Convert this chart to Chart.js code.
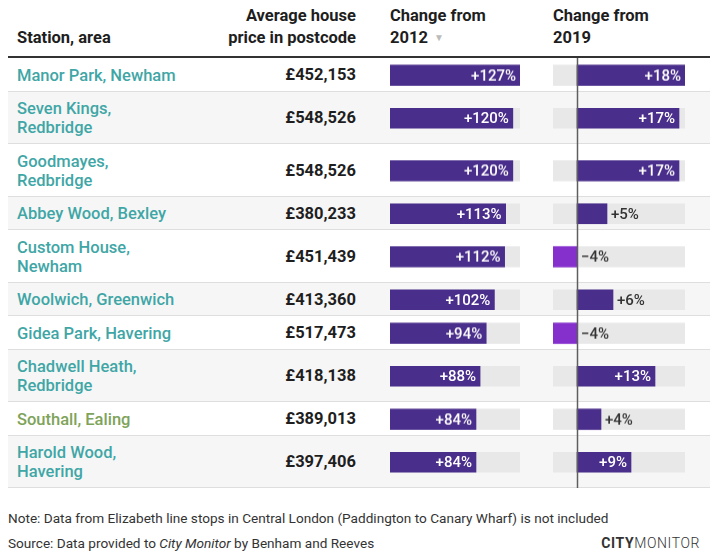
<!DOCTYPE html>
<html>
<head>
<meta charset="utf-8">
<script src="https://cdn.jsdelivr.net/npm/chart.js@4.4.0/dist/chart.umd.min.js"></script>
<style>
  html, body { margin: 0; padding: 0; background: #fff; }
  body { width: 720px; height: 554px; position: relative; overflow: hidden; font-family: Roboto, "Noto Sans", sans-serif; color: #222; }
  .h { position: absolute; font-weight: 700; font-size: 16.5px; line-height: 22px; color: #1e1e1e; white-space: nowrap; }
  .tri { color: #bbb; font-size: 10px; vertical-align: 2px; margin-left: 6px; }
  #headline { position: absolute; left: 8px; top: 56px; width: 702px; height: 2px; background: #333; }
  #rows { position: absolute; left: 8px; top: 58px; width: 702px; }
  .row { display: flex; align-items: center; box-shadow: inset 0 -1px 0 #dedede; }
  .row:nth-child(even) { background: #f6f6f6; }
  .name { width: 162px; padding: 7.5px 3px 7px 9px; line-height: 19px; font-size: 16.5px; font-weight: 500; }
  .price { width: 174px; text-align: right; font-size: 16.5px; font-weight: 700; color: #1e1e1e; }
  .c1 { position: relative; align-self: stretch; width: 130px; margin-left: 34px; }
  .c2 { position: relative; align-self: stretch; width: 132px; margin-left: 33px; }
  .c1 canvas, .c2 canvas { position: absolute; left: 0; top: 0; }
  .foot { position: absolute; left: 8px; font-size: 13.6px; line-height: 18px; color: #333; white-space: nowrap; }
  #brand { position: absolute; right: 20px; top: 534px; font-size: 14px; line-height: 18px; letter-spacing: 0.6px; color: #333; }
</style>
</head>
<body>
<div class="h" style="left:17px; top:27px">Station, area</div>
<div class="h" style="right:364px; top:5px; text-align:right">Average house<br>price in postcode</div>
<div class="h" style="left:390px; top:5px">Change from<br>2012<span class="tri">▼</span></div>
<div class="h" style="left:553px; top:5px">Change from<br>2019</div>
<div id="headline"></div>
<div id="rows"></div>
<div class="foot" style="top:509px">Note: Data from Elizabeth line stops in Central London (Paddington to Canary Wharf) is not included</div>
<div class="foot" style="top:534px">Source: Data provided to <i>City Monitor</i> by Benham and Reeves</div>
<div id="brand"><b>CITY</b><span style="font-weight:300">MONITOR</span></div>

<script>
// ---- data ----
const stations = ['Manor Park', 'Seven Kings', 'Goodmayes', 'Abbey Wood', 'Custom House',
                  'Woolwich', 'Gidea Park', 'Chadwell Heath', 'Southall', 'Harold Wood'];
const areas = ['Newham', 'Redbridge', 'Redbridge', 'Bexley', 'Newham',
               'Greenwich', 'Havering', 'Redbridge', 'Ealing', 'Havering'];
const branches = ['east', 'east', 'east', 'east', 'east', 'east', 'east', 'east', 'west', 'east'];
const prices = [452153, 548526, 548526, 380233, 451439, 413360, 517473, 418138, 389013, 397406];
const change2012 = [127, 120, 120, 113, 112, 102, 94, 88, 84, 84];
const change2019 = [18, 17, 17, 5, -4, 6, -4, 13, 4, 9];

// ---- styles ----
const branchColor = { east: '#3fa6a6', west: '#7ea35a' };
const PURPLE = '#4a2e8c';
const PURPLE_NEG = '#8530cc';
const TRACK = '#e8e8e8';
const LABEL_FONT = '500 15px Roboto, "Noto Sans", sans-serif';

const fmtPct = v => (v >= 0 ? '+' : '\u2212') + Math.abs(v) + '%';
const fmtPrice = v => '\u00a3' + v.toLocaleString('en-GB');

// etiquetas dentro o fuera de la barra
const valueLabels = {
    id: 'valueLabels',
    afterDatasetsDraw(chart) {
        const ctx = chart.ctx;
        const zero = chart.scales.x.getPixelForValue(0);
        const ds = chart.data.datasets[0];
        chart.getDatasetMeta(0).data.forEach((bar, i) => {
            const v = ds.data[i];
            const txt = fmtPct(v);
            ctx.save();
            ctx.font = LABEL_FONT;
            ctx.textBaseline = 'middle';
            const w = ctx.measureText(txt).width;
            const len = Math.abs(bar.x - bar.base);
            if (v > 0 && len > w + 10) {
                ctx.fillStyle = '#fff';
                ctx.textAlign = 'right';
                ctx.fillText(txt, bar.x - 4, bar.y + 1);
            } else {
                ctx.fillStyle = '#333';
                ctx.textAlign = 'left';
                ctx.fillText(txt, Math.max(bar.x, zero) + 4, bar.y + 1);
            }
            ctx.restore();
        });
    }
};

// línea vertical del cero
const zeroLine = {
    id: 'zeroLine',
    afterDatasetsDraw(chart, args, opts) {
        if (!opts.show) return;
        const x = Math.round(chart.scales.x.getPixelForValue(0)) + 0.5;
        const ctx = chart.ctx;
        ctx.save();
        ctx.strokeStyle = '#5e5e5e';
        ctx.lineWidth = 1.5;
        ctx.beginPath();
        ctx.moveTo(x, 0);
        ctx.lineTo(x, chart.height);
        ctx.stroke();
        ctx.restore();
    }
};

function cellChart(el, label, value, min, max, withZero) {
    const canvas = document.createElement('canvas');
    el.appendChild(canvas);
    return new Chart(canvas, {
        type: 'bar',
        data: {
            labels: [label],
            datasets: [
                { data: [value], backgroundColor: value < 0 ? PURPLE_NEG : PURPLE, barThickness: 20, grouped: false, order: 0 },
                { data: [[min, max]], backgroundColor: TRACK, barThickness: 20, grouped: false, order: 1 }
            ]
        },
        options: {
            indexAxis: 'y',
            responsive: true,
            maintainAspectRatio: false,
            animation: false,
            events: [],
            layout: { padding: 0 },
            plugins: { legend: { display: false }, tooltip: { enabled: false }, zeroLine: { show: withZero } },
            scales: {
                x: { display: false, min: min, max: max },
                y: { display: false }
            }
        },
        plugins: [valueLabels, zeroLine]
    });
}

const rowsEl = document.getElementById('rows');
const max2012 = Math.max(...change2012);
const min2019 = Math.min(...change2019);
const max2019 = Math.max(...change2019);

// primero las filas, luego los gráficos (para que la altura ya esté fijada)
const cells = [];
stations.forEach((st, i) => {
    const row = document.createElement('div');
    row.className = 'row';
    const name = document.createElement('div');
    name.className = 'name';
    name.style.color = branchColor[branches[i]];
    name.textContent = st + ', ' + areas[i];
    const price = document.createElement('div');
    price.className = 'price';
    price.textContent = fmtPrice(prices[i]);
    const c1 = document.createElement('div');
    c1.className = 'c1';
    const c2 = document.createElement('div');
    c2.className = 'c2';
    row.append(name, price, c1, c2);
    rowsEl.appendChild(row);
    cells.push([c1, c2]);
});

cells.forEach(([c1, c2], i) => {
    cellChart(c1, stations[i], change2012[i], 0, max2012, false);
    cellChart(c2, stations[i], change2019[i], min2019, max2019, true);
});
</script>
</body>
</html>
